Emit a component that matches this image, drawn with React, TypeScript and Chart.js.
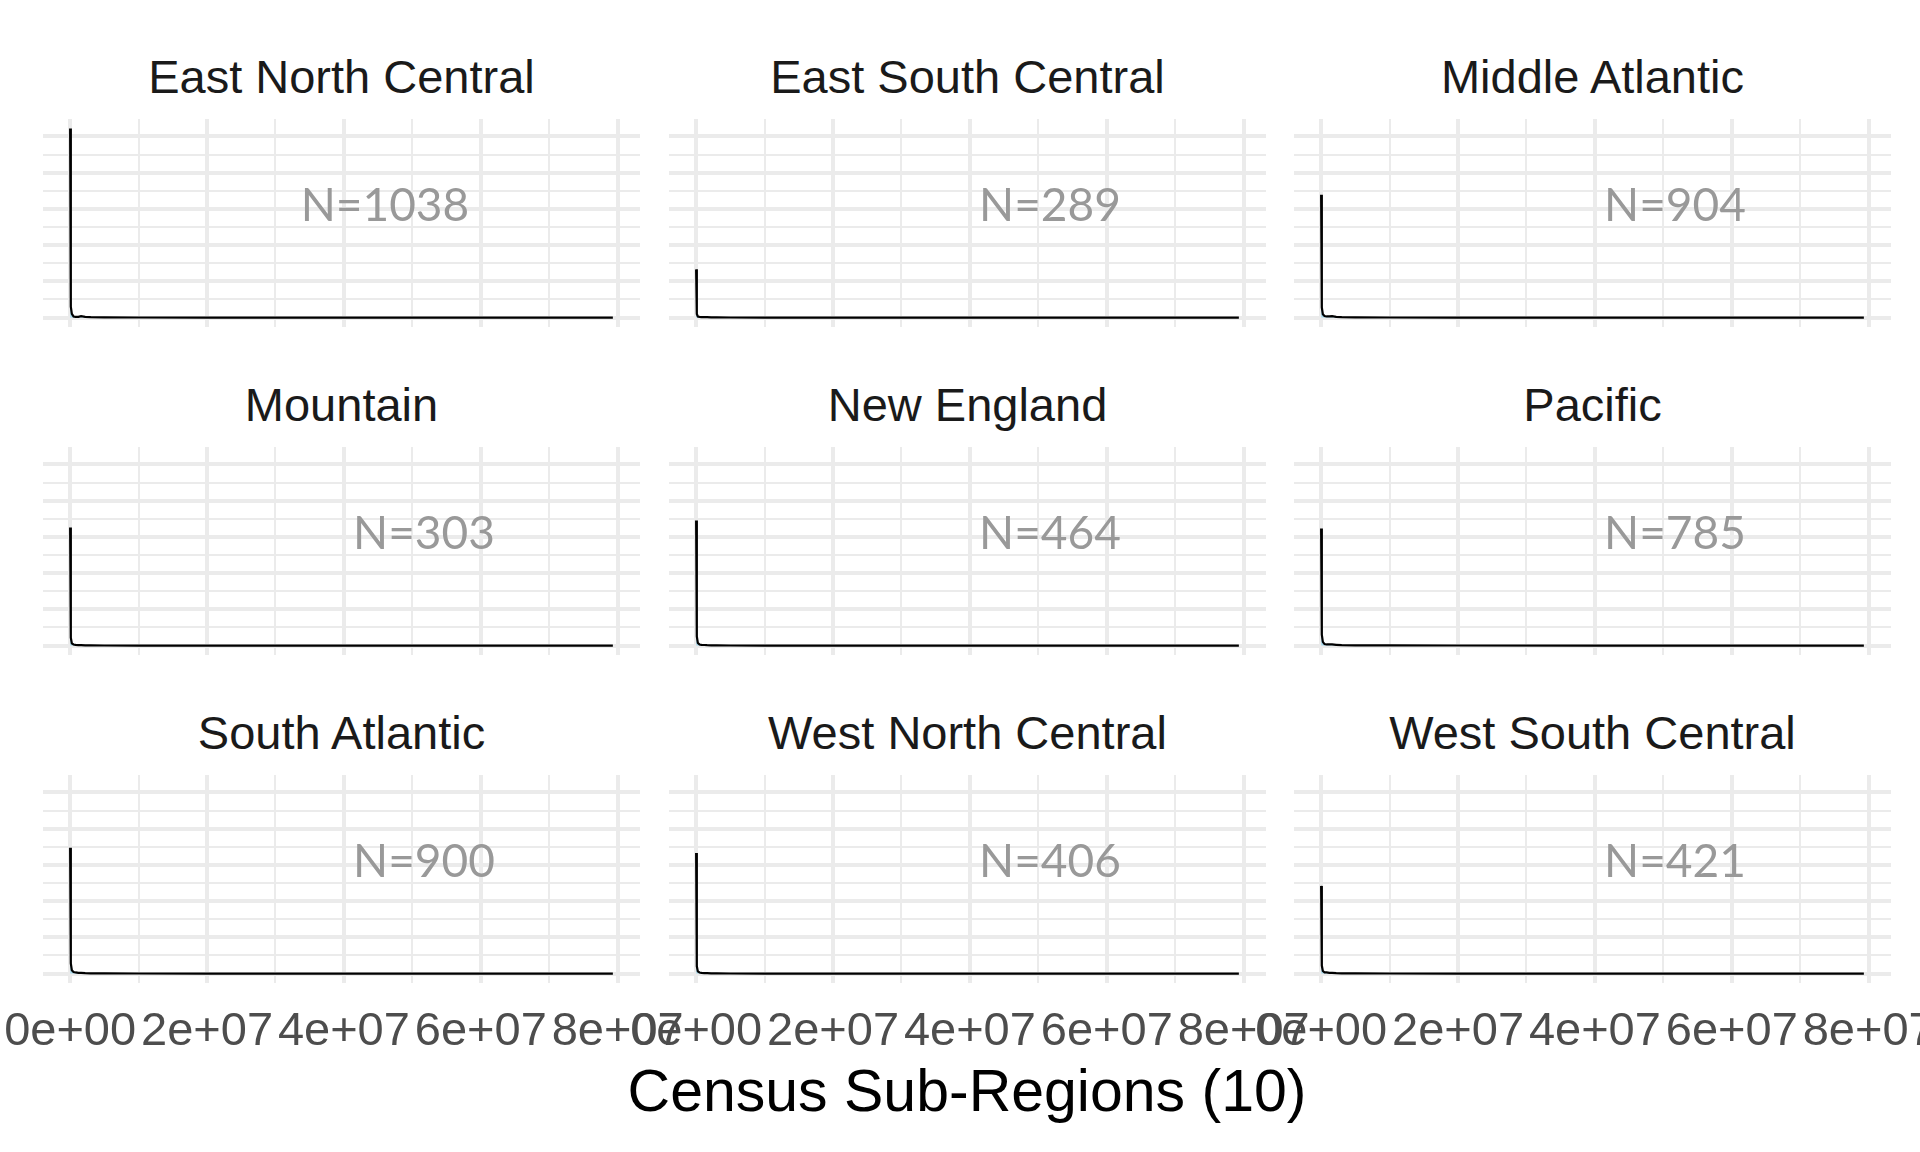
import React, { useEffect, useRef } from 'react';
import { Chart, registerables } from 'chart.js';

Chart.register(...registerables);

// ---------- data ----------
const regions = [
  'East North Central', 'East South Central', 'Middle Atlantic',
  'Mountain', 'New England', 'Pacific',
  'South Atlantic', 'West North Central', 'West South Central',
];
const counts = [1038, 289, 904, 303, 464, 785, 900, 406, 421];

// x positions of the density estimate (population)
const densityX = [0, 100000, 250000, 500000, 800000, 1200000, 1600000, 2200000, 3000000, 5000000, 10000000, 20000000, 40000000, 60000000, 79300000];

// density values (x 1e-7)
const densEastNorthCentral = [5.22, 0.30, 0.10, 0.03, 0.02, 0.02, 0.04, 0.02, 0.01, 0.004, 0.001, 0.0005, 0, 0, 0];
const densEastSouthCentral = [1.33, 0.10, 0.03, 0.02, 0.01, 0.01, 0.01, 0.005, 0.003, 0.001, 0, 0, 0, 0, 0];
const densMiddleAtlantic = [3.39, 0.28, 0.09, 0.04, 0.03, 0.03, 0.04, 0.02, 0.01, 0.004, 0.001, 0, 0, 0, 0];
const densMountain = [3.26, 0.22, 0.06, 0.03, 0.02, 0.01, 0.01, 0.005, 0.002, 0.001, 0, 0, 0, 0, 0];
const densNewEngland = [3.45, 0.25, 0.07, 0.03, 0.02, 0.015, 0.01, 0.006, 0.003, 0.001, 0, 0, 0, 0, 0];
const densPacific = [3.23, 0.30, 0.10, 0.04, 0.03, 0.03, 0.03, 0.02, 0.01, 0.004, 0.002, 0.001, 0, 0, 0];
const densSouthAtlantic = [3.47, 0.28, 0.09, 0.04, 0.03, 0.02, 0.02, 0.01, 0.005, 0.002, 0.001, 0, 0, 0, 0];
const densWestNorthCentral = [3.33, 0.20, 0.06, 0.03, 0.02, 0.01, 0.01, 0.005, 0.002, 0.001, 0, 0, 0, 0, 0];
const densWestSouthCentral = [2.42, 0.22, 0.07, 0.03, 0.03, 0.02, 0.02, 0.01, 0.004, 0.002, 0.001, 0, 0, 0, 0];

const densities = [
  densEastNorthCentral, densEastSouthCentral, densMiddleAtlantic,
  densMountain, densNewEngland, densPacific,
  densSouthAtlantic, densWestNorthCentral, densWestSouthCentral,
];

// position of the "N=" annotation in data units
const labelX = [4.6e7, 5.17e7, 5.17e7, 5.17e7, 5.17e7, 5.17e7, 5.17e7, 5.17e7, 5.17e7];
const labelY = 3.08;

// grid break values
const xBreaks = [0, 1e7, 2e7, 3e7, 4e7, 5e7, 6e7, 7e7, 8e7];
const xMajorStep = 2e7;
const yBreaks = [0, 0.5, 1, 1.5, 2, 2.5, 3, 3.5, 4, 4.5, 5];

const xTitle = 'Census Sub-Regions (10)';

// ---------- layout ----------
const PANEL_W = 597;
const PANEL_H = 208;
const COL_LEFT = [43, 669, 1294];
const ROW_TOP = [119, 447, 775];
const PAD_X = 80;
const PAD_T = 10;
const AXIS_H = 80;

const SANS = "'Liberation Sans', Arial, Helvetica, sans-serif";

const xMinData = Math.min(...densityX);
const xMaxData = Math.max(...densityX);
const xSpan = xMaxData - xMinData;
const X_MIN = xMinData - 0.05 * xSpan;
const X_MAX = xMaxData + 0.05 * xSpan;
const yPeak = Math.max(...densities.map((d) => Math.max(...d)));
const Y_MIN = -0.05 * yPeak;
const Y_MAX = yPeak * 1.05;

function fmtSci(v: number): string {
  const [m, e] = v.toExponential(0).split('e');
  const sign = e[0];
  const digits = e.slice(1).padStart(2, '0');
  return `${m}e${sign}${digits}`;
}

const isXMajor = (v: number) => Math.abs(v / xMajorStep - Math.round(v / xMajorStep)) < 1e-9;
const isYMajor = (v: number) => Math.abs(v - Math.round(v)) < 1e-9;

function Panel({ idx }: { idx: number }) {
  const ref = useRef<HTMLCanvasElement>(null);
  const row = Math.floor(idx / 3);
  const col = idx % 3;
  const bottom = row === 2;
  const cw = PANEL_W + 2 * PAD_X;
  const ch = PAD_T + PANEL_H + (bottom ? AXIS_H : PAD_T);

  useEffect(() => {
    if (!ref.current) return;
    const nLabel = {
      id: 'nLabel' + idx,
      afterDatasetsDraw(chart: any) {
        const { ctx, scales } = chart;
        ctx.save();
        ctx.font = "46px Lato, 'Open Sans', sans-serif";
        ctx.fillStyle = '#999999';
        ctx.textAlign = 'center';
        ctx.textBaseline = 'middle';
        ctx.fillText(`N=${counts[idx]}`, scales.x.getPixelForValue(labelX[idx]), scales.y.getPixelForValue(labelY));
        ctx.restore();
      },
    };
    const chart = new Chart(ref.current, {
      type: 'line',
      data: {
        datasets: [
          {
            data: densityX.map((x, i) => ({ x, y: densities[idx][i] })),
            borderColor: '#000000',
            borderWidth: 2.2,
            pointRadius: 0,
            tension: 0,
            fill: 'origin',
            backgroundColor: 'rgba(135, 206, 235, 0.7)',
          },
        ],
      },
      options: {
        responsive: false,
        animation: false,
        events: [],
        layout: { padding: { left: PAD_X, right: PAD_X, top: PAD_T, bottom: bottom ? 0 : PAD_T } },
        plugins: { legend: { display: false }, tooltip: { enabled: false }, title: { display: false } },
        scales: {
          x: {
            type: 'linear',
            min: X_MIN,
            max: X_MAX,
            afterBuildTicks: (axis: any) => {
              axis.ticks = xBreaks.map((v) => ({ value: v }));
            },
            afterFit: (s: any) => {
              s.height = bottom ? AXIS_H : 0;
            },
            grid: {
              color: '#EBEBEB',
              lineWidth: (c: any) => (c.tick && isXMajor(c.tick.value) ? 4 : 2),
              drawTicks: false,
            },
            border: { display: false },
            ticks: {
              display: bottom,
              autoSkip: false,
              maxRotation: 0,
              minRotation: 0,
              padding: 21,
              color: '#4D4D4D',
              font: { family: SANS, size: 47 },
              callback: (v: any) => (isXMajor(Number(v)) ? fmtSci(Number(v)) : ''),
            },
          },
          y: {
            type: 'linear',
            min: Y_MIN,
            max: Y_MAX,
            afterBuildTicks: (axis: any) => {
              axis.ticks = yBreaks.map((v) => ({ value: v }));
            },
            afterFit: (s: any) => {
              s.width = 0;
            },
            grid: {
              color: '#EBEBEB',
              lineWidth: (c: any) => (c.tick && isYMajor(c.tick.value) ? 4 : 2),
              drawTicks: false,
            },
            border: { display: false },
            ticks: { display: false },
          },
        },
      },
      plugins: [nLabel],
    } as any);
    return () => chart.destroy();
  }, [idx, bottom]);

  return (
    <>
      <div
        style={{
          position: 'absolute',
          left: COL_LEFT[col],
          top: ROW_TOP[row] - 66,
          width: PANEL_W,
          textAlign: 'center',
          fontFamily: SANS,
          fontSize: 47,
          lineHeight: '47px',
          color: '#1A1A1A',
          whiteSpace: 'nowrap',
        }}
      >
        {regions[idx]}
      </div>
      <canvas
        ref={ref}
        width={cw}
        height={ch}
        style={{ position: 'absolute', left: COL_LEFT[col] - PAD_X, top: ROW_TOP[row] - PAD_T, width: cw, height: ch }}
      />
    </>
  );
}

export default function App() {
  return (
    <div
      style={{
        position: 'fixed',
        left: 0,
        top: 0,
        width: 1920,
        height: 1152,
        overflow: 'hidden',
        background: '#FFFFFF',
      }}
    >
      {regions.map((_, i) => (
        <Panel key={i} idx={i} />
      ))}
      <div
        style={{
          position: 'absolute',
          left: COL_LEFT[0],
          top: 1062,
          width: COL_LEFT[2] + PANEL_W - COL_LEFT[0],
          textAlign: 'center',
          fontFamily: SANS,
          fontSize: 59,
          lineHeight: '59px',
          color: '#000000',
          whiteSpace: 'nowrap',
        }}
      >
        {xTitle}
      </div>
    </div>
  );
}
